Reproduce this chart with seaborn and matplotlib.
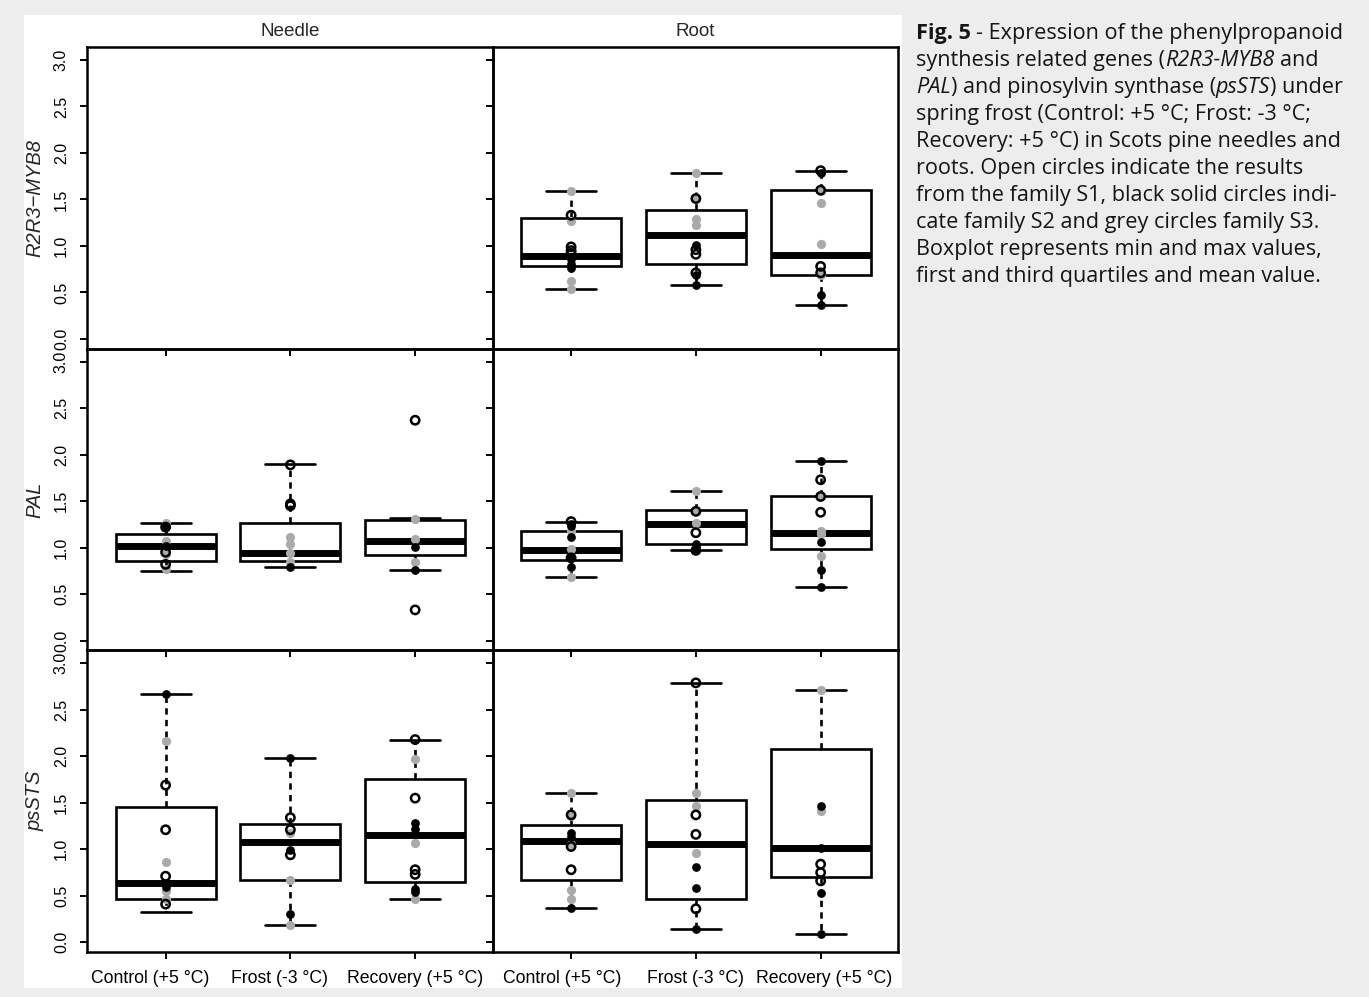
import numpy as np
import pandas as pd
import matplotlib
matplotlib.use("Agg")
import matplotlib.pyplot as plt
import matplotlib.transforms as mtransforms
import seaborn as sns

# categories
conditions = ["Control (+5 °C)", "Frost (-3 °C)", "Recovery (+5 °C)"]
tissues = ["Needle", "Root"]
genes = ["R2R3\u2212MYB8", "PAL", "psSTS"]

# box summaries per condition: [min, Q1, centre line, Q3, max]
root_myb8_box = [[0.54, 0.78, 0.89, 1.30, 1.59], [0.58, 0.81, 1.12, 1.39, 1.79], [0.36, 0.69, 0.90, 1.60, 1.81]]
needle_pal_box = [[0.75, 0.86, 1.02, 1.15, 1.27], [0.79, 0.86, 0.94, 1.27, 1.90], [0.76, 0.92, 1.07, 1.30, 1.32]]
root_pal_box = [[0.68, 0.87, 0.97, 1.18, 1.28], [0.97, 1.04, 1.25, 1.40, 1.61], [0.58, 0.98, 1.16, 1.55, 1.93]]
needle_sts_box = [[0.32, 0.46, 0.64, 1.45, 2.67], [0.19, 0.67, 1.08, 1.27, 1.98], [0.47, 0.65, 1.15, 1.76, 2.18]]
root_sts_box = [[0.37, 0.67, 1.09, 1.26, 1.61], [0.14, 0.47, 1.06, 1.53, 2.79], [0.09, 0.70, 1.01, 2.08, 2.71]]

# family S1 (open circles)
root_myb8_s1 = [[1.33, 0.99, 0.95, 0.92], [1.51, 0.96, 0.91, 0.71], [1.81, 1.60, 0.78, 0.71]]
needle_pal_s1 = [[1.22, 0.95, 0.82], [1.89, 1.47, 1.45], [2.37, 0.33]]
root_pal_s1 = [[1.28, 0.89], [1.39, 1.16, 0.97], [1.73, 1.55, 1.38]]
needle_sts_s1 = [[1.69, 1.21, 0.71, 0.41], [1.34, 1.21, 0.94], [2.18, 1.55, 0.78, 0.73]]
root_sts_s1 = [[1.37, 1.03, 0.78], [2.79, 1.37, 1.16, 0.36], [0.84, 0.75, 0.66]]

# family S2 (black solid circles)
root_myb8_s2 = [[0.86, 0.81, 0.76], [1.01, 0.69, 0.58], [1.79, 0.47, 0.36]]
needle_pal_s2 = [[1.23, 1.02], [0.79], [1.01, 0.76]]
root_pal_s2 = [[1.25, 1.23, 1.11, 0.89, 0.79], [1.04, 1.01, 0.98], [1.93, 1.06, 0.76, 0.58]]
needle_sts_s2 = [[2.67, 0.59], [1.98, 0.99, 0.30], [1.28, 1.22, 0.57, 0.54]]
root_sts_s2 = [[1.17, 1.13, 0.37], [0.81, 0.58, 0.14], [1.47, 1.01, 0.53, 0.09]]

# family S3 (grey circles)
root_myb8_s3 = [[1.59, 1.27, 0.62, 0.54], [1.79, 1.50, 1.29, 1.22], [1.59, 1.46, 1.02, 0.69]]
needle_pal_s3 = [[1.27, 1.07, 0.93, 0.77], [1.11, 1.04, 0.94, 0.84], [1.31, 1.09, 0.84]]
root_pal_s3 = [[1.18, 0.98, 0.68], [1.61, 1.40, 1.26], [1.55, 1.18, 1.15, 0.91]]
needle_sts_s3 = [[2.16, 0.86, 0.55, 0.47], [1.18, 0.67, 0.19], [1.97, 1.07, 0.47]]
root_sts_s3 = [[1.61, 1.36, 1.06, 0.56, 0.46], [1.60, 1.47, 0.96], [2.71, 1.41]]

ytick_values = [0.0, 0.5, 1.0, 1.5, 2.0, 2.5, 3.0]
ytick_labels = ["0.0", "0.5", "1.0", "1.5", "2.0", "2.5", "3.0"]

caption = [
    [("Fig. 5", "b"), (" - Expression of the phenylpropanoid", "n")],
    [("synthesis related genes (", "n"), ("R2R3-MYB8", "i"), (" and", "n")],
    [("PAL", "i"), (") and pinosylvin synthase (", "n"), ("psSTS", "i"), (") under", "n")],
    [("spring frost (Control: +5 °C; Frost: -3 °C;", "n")],
    [("Recovery: +5 °C) in Scots pine needles and", "n")],
    [("roots. Open circles indicate the results", "n")],
    [("from the family S1, black solid circles indi-", "n")],
    [("cate family S2 and grey circles family S3.", "n")],
    [("Boxplot represents min and max values,", "n")],
    [("first and third quartiles and mean value.", "n")],
]

panels = {
    (0, 0): None,
    (0, 1): (root_myb8_box, root_myb8_s1, root_myb8_s2, root_myb8_s3),
    (1, 0): (needle_pal_box, needle_pal_s1, needle_pal_s2, needle_pal_s3),
    (1, 1): (root_pal_box, root_pal_s1, root_pal_s2, root_pal_s3),
    (2, 0): (needle_sts_box, needle_sts_s1, needle_sts_s2, needle_sts_s3),
    (2, 1): (root_sts_box, root_sts_s1, root_sts_s2, root_sts_s3),
}

# small horizontal nudges (px) of the bottom tick labels, as in the original figure
label_nudge = [[-15, -11, 0], [-9, 0, 3]]


def long_df(groups):
    rows = [(conditions[i], v) for i, vals in enumerate(groups) for v in vals]
    return pd.DataFrame(rows, columns=["condition", "value"])


W, H = 1369, 997
sns.set_style("ticks")
plt.rcParams["font.family"] = ["Liberation Sans", "DejaVu Sans"]

fig, axes = plt.subplots(3, 2, figsize=(W / 100, H / 100), dpi=100)
fig.patch.set_facecolor("#ededed")
fig.subplots_adjust(left=87 / W, right=898 / W, top=1 - 47 / H, bottom=1 - 952 / H,
                    hspace=0, wspace=0)
fig.add_artist(plt.Rectangle((24 / W, 1 - 988 / H), (902 - 24) / W, (988 - 15) / H,
                             transform=fig.transFigure, facecolor="white",
                             edgecolor="none", zorder=-1))

for (r, c), ax in np.ndenumerate(axes):
    ax.set_facecolor("none")
    data = panels[(r, c)]
    if data is not None:
        box, s1, s2, s3 = data
        sns.boxplot(data=long_df(box), x="condition", y="value", order=conditions,
                    whis=(0, 100), width=0.8, color="white", linecolor="black",
                    linewidth=1.9, ax=ax,
                    medianprops=dict(linewidth=5, solid_capstyle="butt"),
                    whiskerprops=dict(linestyle=(0, (2.4, 2.0))))
        sns.stripplot(data=long_df(s3), x="condition", y="value", order=conditions,
                      jitter=False, size=6.6, color="#aaaaaa", linewidth=0,
                      zorder=3, ax=ax)
        sns.stripplot(data=long_df(s2), x="condition", y="value", order=conditions,
                      jitter=False, size=6.3, color="black", linewidth=0,
                      zorder=3, ax=ax)
        sns.stripplot(data=long_df(s1), x="condition", y="value", order=conditions,
                      jitter=False, size=6.0, color="black", facecolors="none",
                      edgecolor="black", linewidth=1.8, zorder=3, ax=ax)
    ax.set_xticks(range(len(conditions)))
    ax.set_xticklabels(conditions)
    ax.set_xlim(-0.63, 2.62)
    ax.set_ylim(-0.105, 3.14)
    ax.set_yticks(ytick_values)
    ax.set_yticklabels(ytick_labels, rotation=90, va="center")
    ax.set_xlabel("")
    ax.set_ylabel("")
    ax.tick_params(direction="out", length=5, width=1.4, color="black",
                   labelsize=12.7, pad=8, labelcolor="black")
    ax.tick_params(axis="y", labelsize=11.5, pad=8)
    ax.tick_params(labelbottom=(r == 2), labelleft=(c == 0))
    if r == 2:
        for lab, dx in zip(ax.get_xticklabels(), label_nudge[c]):
            lab.set_transform(lab.get_transform()
                              + mtransforms.ScaledTranslation(dx / 100, 0, fig.dpi_scale_trans))
    for sp in ax.spines.values():
        sp.set_visible(True)
        sp.set_color("black")
        sp.set_linewidth(1.8)
    if r == 0:
        ax.set_title(tissues[c], fontsize=13.6, pad=8)
    if c == 0:
        fig.text(35 / W, (ax.get_position().y0 + ax.get_position().y1) / 2, genes[r],
                 rotation=90, ha="center", va="center", fontsize=14.5, style="italic")

# caption with mixed styles, laid out piece by piece
renderer = fig.canvas.get_renderer()
cap_font = ["Open Sans", "DejaVu Sans"]
probe = fig.text(0, 0, "Boxplot represents min and max values,", fontsize=10, family=cap_font)
cap_size = 10 * 404 / probe.get_window_extent(renderer).width
probe.remove()


def text_width(s, **kw):
    t = fig.text(0, 0, s, fontsize=cap_size, family=cap_font, **kw)
    w = t.get_window_extent(renderer).width
    t.remove()
    return w


for i, line in enumerate(caption):
    x = 916
    y = 38.5 + 27.1 * i
    for txt, st in line:
        kw = {}
        if st == "b":
            kw["fontweight"] = "bold"
        if st == "i":
            kw["fontstyle"] = "italic"
        space = text_width("x x", **kw) - text_width("xx", **kw)
        x += (len(txt) - len(txt.lstrip(" "))) * space
        t = fig.text(x / W, 1 - y / H, txt.strip(), fontsize=cap_size, family=cap_font,
                     va="baseline", ha="left", color="#151515", **kw)
        x += t.get_window_extent(renderer).width
        x += (len(txt) - len(txt.rstrip(" "))) * space

fig.savefig("out.png", dpi=100, facecolor=fig.get_facecolor())
